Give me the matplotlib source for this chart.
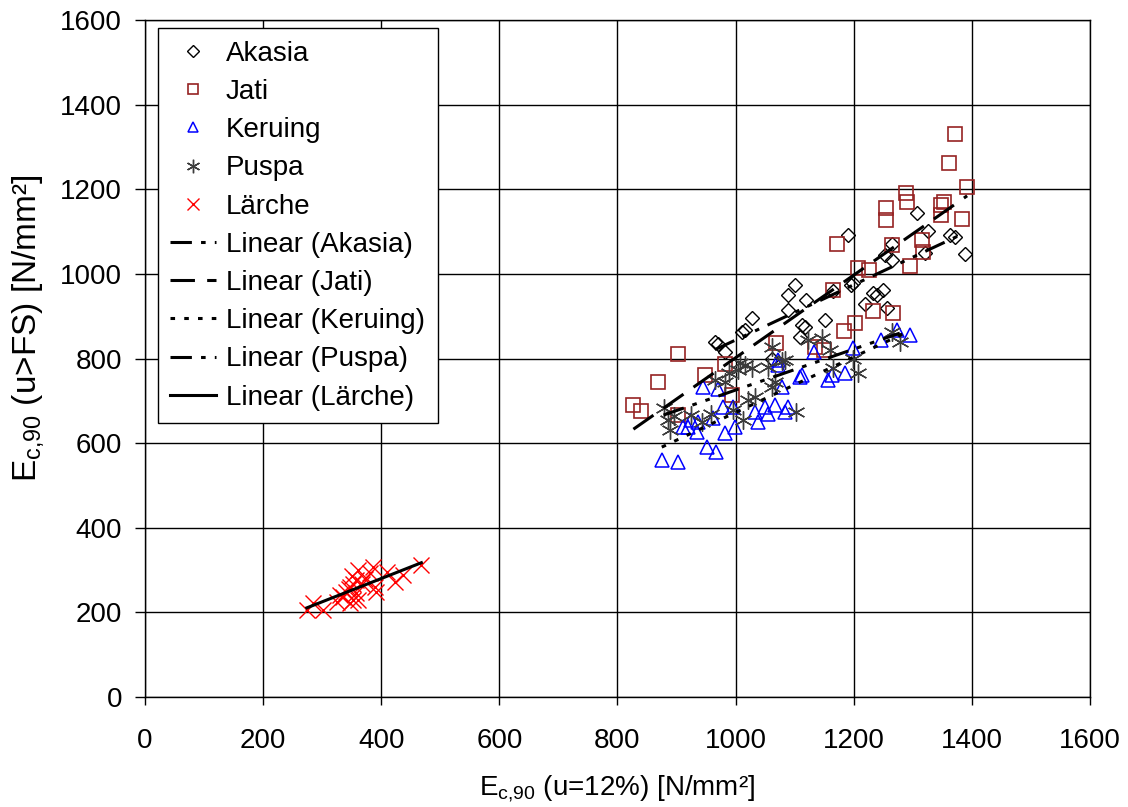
import numpy as np
import matplotlib
matplotlib.use('Agg')
import matplotlib.pyplot as plt

plt.rcParams['font.family'] = ['Liberation Sans', 'DejaVu Sans']
plt.rcParams['mathtext.fontset'] = 'custom'
plt.rcParams['mathtext.rm'] = 'Liberation Sans'
plt.rcParams['mathtext.it'] = 'Liberation Sans'

# E_c,90 at u=12% (x) vs u>FS (y), N/mm²
akasia_x = [965, 970, 982, 1016, 1027, 1010, 1061, 1089, 1101, 1089, 1109, 1112, 1120, 1151, 1117,
            1196, 1219, 1233, 1250, 1256, 1190, 1199, 1253, 1264, 1264, 1307, 1325, 1320, 1363, 1371,
            1388, 1240, 1165]
akasia_y = [840, 835, 816, 867, 895, 862, 800, 950, 974, 915, 852, 879, 938, 891, 875,
            974, 930, 954, 962, 919, 1092, 978, 1045, 1071, 1033, 1145, 1102, 1049, 1092, 1086,
            1046, 950, 960]

jati_x = [827, 840, 869, 903, 903, 949, 982, 994, 1069, 1134, 1149, 1165, 1171, 1184, 1202, 1207,
          1226, 1233, 1255, 1255, 1264, 1266, 1288, 1291, 1296, 1315, 1318, 1347, 1347, 1353, 1361,
          1371, 1384, 1392]
jati_y = [690, 676, 745, 811, 667, 761, 787, 714, 837, 828, 820, 962, 1071, 866, 883, 1015,
          1009, 913, 1155, 1127, 1068, 907, 1190, 1171, 1019, 1080, 1052, 1163, 1139, 1171, 1263,
          1331, 1130, 1206]

keruing_x = [875, 902, 911, 920, 925, 934, 937, 945, 951, 962, 966, 971, 979, 982, 996, 999, 1033,
             1038, 1050, 1055, 1067, 1072, 1072, 1078, 1084, 1089, 1109, 1112, 1132, 1157, 1163,
             1185, 1199, 1247, 1273, 1295]
keruing_y = [560, 556, 639, 639, 655, 627, 651, 733, 592, 659, 580, 729, 686, 624, 686, 639, 674,
             651, 686, 670, 690, 785, 797, 733, 674, 686, 757, 761, 816, 749, 761,
             765, 824, 844, 867, 856]

puspa_x = [878, 886, 889, 895, 925, 943, 959, 965, 982, 988, 996, 1004, 1007, 1013, 1016, 1021,
           1027, 1033, 1055, 1061, 1061, 1067, 1078, 1084, 1103, 1123, 1146, 1160, 1165, 1199,
           1208, 1264, 1278]
puspa_y = [682, 655, 631, 663, 667, 651, 670, 749, 745, 765, 678, 773, 789, 655, 785, 702,
           777, 710, 781, 828, 733, 745, 793, 797, 674, 844, 848, 820, 777, 800,
           765, 863, 840]

laerche_x = [274, 285, 302, 325, 336, 341, 347, 353, 358, 361, 367, 372, 381, 386, 389, 392, 347,
             353, 358, 409, 423, 437, 468, 330, 345, 360, 350]
laerche_y = [206, 221, 206, 225, 237, 249, 261, 268, 277, 300, 268, 280, 292, 308, 261, 249, 221,
             229, 245, 296, 272, 288, 312, 240, 255, 230, 285]

SERIES = [
    ('Akasia', akasia_x, akasia_y, dict(marker='D', mfc='none', mec='black', ms=7.5, mew=1.0)),
    ('Jati', jati_x, jati_y, dict(marker='s', mfc='none', mec='#962222', ms=9.5, mew=1.2)),
    ('Keruing', keruing_x, keruing_y, dict(marker='^', mfc='none', mec='#0000ff', ms=10.5, mew=1.1)),
    ('Puspa', puspa_x, puspa_y, dict(marker=(6, 2, 0), mfc='none', mec='#3c3c3c', ms=13, mew=1.0)),
    ('Lärche', laerche_x, laerche_y, dict(marker='x', mfc='none', mec='#ff0000', ms=11, mew=1.0)),
]

TREND_STYLES = {
    'Akasia': (0, (7, 3, 1.5, 3, 1.5, 3)),
    'Jati': (0, (8, 4)),
    'Keruing': (0, (1.5, 3)),
    'Puspa': (0, (7, 3, 1.5, 3, 1.5, 3)),
    'Lärche': '-',
}

fig = plt.figure(figsize=(11.28, 8.07), dpi=100)
ax = fig.add_axes([0.1285, 0.1363, 0.8378, 0.8389])

for name, xs, ys, style in SERIES:
    ax.plot(xs, ys, linestyle='none', label=name, zorder=3, **style)

# linear trend lines, spanning each series' x range
for name, xs, ys, _ in SERIES:
    xs = np.array(xs, dtype=float)
    ys = np.array(ys, dtype=float)
    k, d = np.polyfit(xs, ys, 1)
    xx = np.array([xs.min(), xs.max()])
    ax.plot(xx, k * xx + d, color='black', lw=2.2, linestyle=TREND_STYLES[name],
            label=f'Linear ({name})', zorder=4)

ax.set_xlim(0, 1600)
ax.set_ylim(0, 1600)
ax.set_xticks(np.arange(0, 1601, 200))
ax.set_yticks(np.arange(0, 1601, 200))
ax.grid(True, color='black', lw=1.0)
ax.set_axisbelow(True)
ax.tick_params(direction='out', width=1, labelsize=20)
ax.tick_params(axis='x', length=5.5, pad=17)
ax.tick_params(axis='y', length=7.5, pad=9)
for s in ax.spines.values():
    s.set_color('black')
    s.set_linewidth(1.0)

ax.set_xlabel(r'E$_{\mathrm{c{,}90}}$ (u=12%) [N/mm²]', fontsize=20)
ax.set_ylabel(r'E$_{\mathrm{c{,}90}}$ (u>FS) [N/mm²]', fontsize=24)
ax.xaxis.set_label_coords(0.5, -0.112)
ax.yaxis.set_label_coords(-0.105, 0.545)

leg = ax.legend(loc='upper left', bbox_to_anchor=(0.0138, 0.988), borderaxespad=0, fontsize=20,
                frameon=True, fancybox=False, edgecolor='black', framealpha=1, markerscale=0.75,
                handlelength=1.65, handletextpad=0.35, labelspacing=0.44, borderpad=0.45)
leg.get_frame().set_linewidth(1.0)

fig.savefig('out.png', dpi=100)
plt.close(fig)
